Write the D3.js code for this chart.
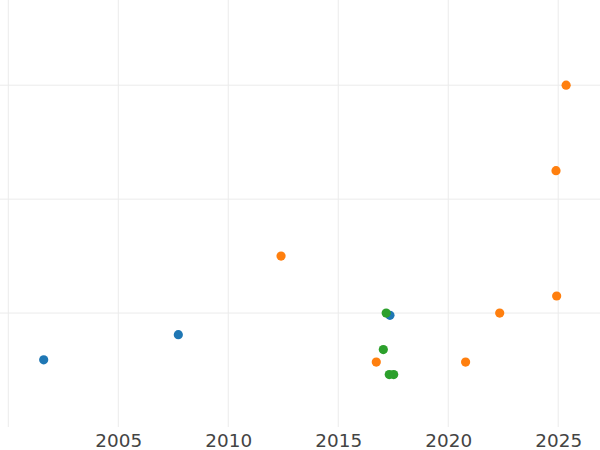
<!DOCTYPE html>
<html>
<head>
<meta charset="utf-8">
<script src="https://cdn.jsdelivr.net/npm/d3@7"></script>
<style>
  html, body { margin: 0; padding: 0; background: #fff; }
  svg { display: block; }
</style>
</head>
<body>
<div id="chart"></div>
<script>
// ---- data ----
const seriesNames = ["A", "B", "C"];
const seriesColors = ["#1f77b4", "#ff7f0e", "#2ca02c"];
const blueYears = [2001.61, 2007.73, 2017.35];
const blueValues = [5.9, 8.1, 9.8];
const orangeYears = [2012.40, 2025.36, 2024.90, 2024.93, 2022.34, 2016.73, 2020.79];
const orangeValues = [15.0, 30.0, 22.5, 11.5, 10.0, 5.7, 5.7];
const greenYears = [2017.18, 2017.05, 2017.32, 2017.52];
const greenValues = [10.0, 6.8, 4.6, 4.6];
const xTickValues = [2000, 2005, 2010, 2015, 2020, 2025];
const xTickLabels = ["", "2005", "2010", "2015", "2020", "2025"];
const yTickValues = [10, 20, 30];

const W = 600, H = 450;
const plotBottom = 427;

const svg = d3.select("#chart").append("svg").attr("width", W).attr("height", H);

const x = d3.scaleLinear().domain([1999.623, 2026.9]).range([0, W]);
const y = d3.scaleLinear().domain([0, 37.48]).range([plotBottom, 0]);

// grid
const grid = svg.append("g");
grid.selectAll("line.v").data(xTickValues).join("line")
  .attr("class", "v")
  .attr("x1", d => x(d)).attr("x2", d => x(d))
  .attr("y1", 0).attr("y2", plotBottom)
  .attr("stroke", "#ebebeb").attr("stroke-width", 1);
grid.selectAll("line.h").data(yTickValues).join("line")
  .attr("class", "h")
  .attr("x1", 0).attr("x2", W)
  .attr("y1", d => y(d)).attr("y2", d => y(d))
  .attr("stroke", "#ebebeb").attr("stroke-width", 1);

// x axis labels
const xAxis = d3.axisBottom(x).tickValues(xTickValues)
  .tickFormat((d, i) => xTickLabels[i]).tickSize(0).tickPadding(0);
const gx = svg.append("g").attr("transform", `translate(0,${plotBottom})`).call(xAxis);
gx.select(".domain").remove();
gx.selectAll("text")
  .attr("y", 20.2)
  .attr("dy", null)
  .attr("fill", "#444")
  .style("font-family", "'DejaVu Sans', sans-serif")
  .style("font-size", "18.4px");

// points
const series = [
  { years: blueYears, values: blueValues },
  { years: orangeYears, values: orangeValues },
  { years: greenYears, values: greenValues }
];
series.forEach((s, si) => {
  svg.append("g").selectAll("circle")
    .data(s.years.map((yr, i) => ({ yr, v: s.values[i] })))
    .join("circle")
    .attr("cx", d => x(d.yr))
    .attr("cy", d => y(d.v))
    .attr("r", 4.6)
    .attr("fill", seriesColors[si]);
});
</script>
</body>
</html>
